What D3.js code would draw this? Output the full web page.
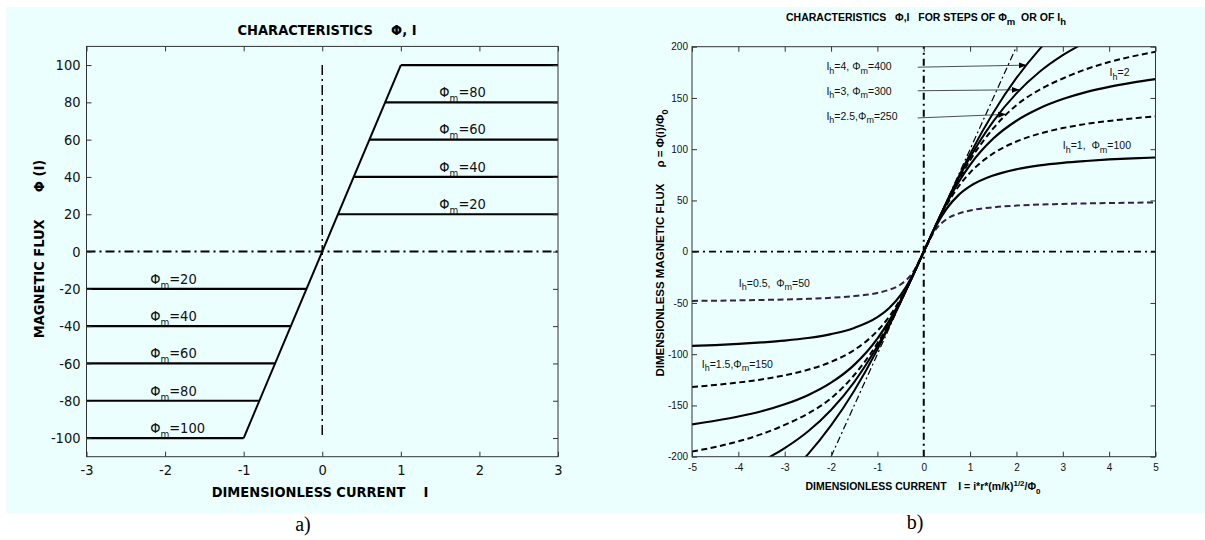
<!DOCTYPE html>
<html>
<head>
<meta charset="utf-8">
<script src="https://cdn.jsdelivr.net/npm/d3@7"></script>
<style>
  body { margin: 0; background: #fff; }
  text { white-space: pre; }
</style>
</head>
<body>
<svg id="chart" width="1205" height="540"></svg>
<script>
// ---------- panel a) : piecewise linear characteristics ----------
var phiSteps = [20, 40, 60, 80, 100];          // flux levels of the flat parts
var kneeCurrent = [0.2, 0.4, 0.6, 0.8, 1.0];    // where each flat part meets the ramp
var rampCurrent = [-1, 1];
var rampFlux = [-100, 100];
var posLabelSteps = [20, 40, 60, 80];           // labels on the right half
var negLabelSteps = [20, 40, 60, 80, 100];      // labels on the left half
var aTicksX = [-3, -2, -1, 0, 1, 2, 3];
var aTicksY = [-100, -80, -60, -40, -20, 0, 20, 40, 60, 80, 100];

// ---------- panel b) : smooth characteristics ----------
var currentI = [-5, -4.5, -4, -3.5, -3, -2.5, -2, -1.5, -1, -0.75, -0.5, -0.25, 0,
                0.25, 0.5, 0.75, 1, 1.5, 2, 2.5, 3, 3.5, 4, 4.5, 5];
var fluxIh05 = [-48.0, -47.8, -47.5, -47.1, -46.6, -46.0, -45.0, -43.3, -40.2, -37.2, -32.0, -21.2, 0,
                21.2, 32.0, 37.2, 40.2, 43.3, 45.0, 46.0, 46.6, 47.1, 47.5, 47.8, 48.0];
var fluxIh1 = [-91.9, -91.1, -90.0, -88.5, -86.7, -84.2, -80.4, -74.4, -63.9, -55.2, -42.4, -23.9, 0,
               23.9, 42.4, 55.2, 63.9, 74.4, 80.4, 84.2, 86.7, 88.5, 90.0, 91.1, 91.9];
var fluxIh15 = [-132.0, -130.0, -127.6, -124.6, -120.6, -115.2, -107.5, -95.9, -77.2, -63.6, -46.1, -24.4, 0,
                24.4, 46.1, 63.6, 77.2, 95.9, 107.5, 115.2, 120.6, 124.6, 127.6, 130.0, 132.0];
var fluxIh2 = [-168.4, -164.9, -160.8, -155.7, -148.9, -140.0, -127.8, -110.4, -84.8, -67.8, -47.7, -24.7, 0,
               24.7, 47.7, 67.8, 84.8, 110.4, 127.8, 140.0, 148.9, 155.7, 160.8, 164.9, 168.4];
var fluxIh25 = [-195.0, -190.5, -185.0, -178.0, -169.0, -158.0, -143.0, -120.3, -89.3, -70.1, -48.4, -24.8, 0,
                24.8, 48.4, 70.1, 89.3, 120.3, 143.0, 158.0, 169.0, 178.0, 185.0, 190.5, 195.0];
var fluxIh3 = [null, null, null, -204.6, -191.7, -175.5, -154.4, -127.2, -92.1, -71.6, -48.9, -24.9, 0,
               24.9, 48.9, 71.6, 92.1, 127.2, 154.4, 175.5, 191.7, 204.6, null, null, null];
var fluxIh4 = [null, null, null, null, -220.7, -197.7, -169.5, -135.6, -95.4, -72.9, -49.4, -24.9, 0,
               24.9, 49.4, 72.9, 95.4, 135.6, 169.5, 197.7, 220.7, null, null, null, null];
var linearCurrent = [-2, 2];
var linearFlux = [-200, 200];
var bTicksX = [-5, -4, -3, -2, -1, 0, 1, 2, 3, 4, 5];
var bTicksY = [-200, -150, -100, -50, 0, 50, 100, 150, 200];

var NARROW = "'Liberation Sans Narrow', 'Arial Narrow', 'DejaVu Sans Condensed', sans-serif";
var SANS = "'Liberation Sans', Arial, sans-serif";
var SERIF = "'Liberation Serif', 'Times New Roman', serif";

var svg = d3.select("#chart");

// light cyan figure background
svg.append("rect").attr("x", 6).attr("y", 7).attr("width", 1199).attr("height", 506)
    .attr("fill", "#ebffff");

// arrow head for the label leader lines
svg.append("defs").append("marker")
    .attr("id", "arrow").attr("markerUnits", "userSpaceOnUse")
    .attr("markerWidth", 9).attr("markerHeight", 8)
    .attr("refX", 8).attr("refY", 4).attr("orient", "auto")
    .append("path").attr("d", "M0,1L8,4L0,7Z").attr("fill", "#000");

// write a label made of parts, some parts as subscripts / superscripts
function richText(sel, parts, subSize, subShift) {
    var prev = 0;
    parts.forEach(function (p) {
        var shift = p.sub ? subShift : (p.sup ? -subShift : 0);
        var ts = sel.append("tspan").text(p.t).attr("dy", shift - prev);
        if (p.sub || p.sup) ts.attr("font-size", subSize);
        prev = shift;
    });
}

// MATLAB style box with inward ticks on all four sides
function drawFrame(g, x, y, tx, ty, font, size, padX, padY) {
    var fmt = function (d) { return String(d); };
    var bottom = g.append("g").attr("transform", "translate(0," + y.range()[0] + ")")
        .call(d3.axisBottom(x).tickValues(tx).tickFormat(fmt).tickSizeInner(-5).tickSizeOuter(0).tickPadding(padX));
    var top = g.append("g").attr("transform", "translate(0," + y.range()[1] + ")")
        .call(d3.axisTop(x).tickValues(tx).tickFormat("").tickSizeInner(-5).tickSizeOuter(0));
    var left = g.append("g").attr("transform", "translate(" + x.range()[0] + ",0)")
        .call(d3.axisLeft(y).tickValues(ty).tickFormat(fmt).tickSizeInner(-5).tickSizeOuter(0).tickPadding(padY));
    var right = g.append("g").attr("transform", "translate(" + x.range()[1] + ",0)")
        .call(d3.axisRight(y).tickValues(ty).tickFormat("").tickSizeInner(-5).tickSizeOuter(0));
    [bottom, top, left, right].forEach(function (a) {
        a.select(".domain").remove();
        a.selectAll("line").attr("stroke", "#333");
        a.selectAll("text").attr("font-family", font).attr("font-size", size).attr("fill", "#111");
    });
    g.append("rect")
        .attr("x", x.range()[0]).attr("y", y.range()[1])
        .attr("width", x.range()[1] - x.range()[0]).attr("height", y.range()[0] - y.range()[1])
        .attr("fill", "none").attr("stroke", "#333").attr("stroke-width", 1);
}

// =========================== panel a) ===========================
var xA = d3.scaleLinear().domain([-3, 3]).range([86.5, 558]);
var yA = d3.scaleLinear().domain([-110, 110]).range([456.7, 46.4]);
var gA = svg.append("g");

var lineA = d3.line().x(function (d) { return xA(d[0]); }).y(function (d) { return yA(d[1]); });

// zero axes, dash-dot
gA.append("path").attr("d", lineA([[-3, 0], [3, 0]]))
    .attr("stroke", "#000").attr("stroke-width", 2).attr("stroke-dasharray", "9,4,2,4").attr("fill", "none");
gA.append("path").attr("d", lineA([[0, 100], [0, -100]]))
    .attr("stroke", "#000").attr("stroke-width", 1.5).attr("stroke-dasharray", "10,4,2,4").attr("fill", "none");

// ramp
gA.append("path").attr("d", lineA(rampCurrent.map(function (c, i) { return [c, rampFlux[i]]; })))
    .attr("stroke", "#000").attr("stroke-width", 2).attr("fill", "none");

// flat parts
phiSteps.forEach(function (p, i) {
    gA.append("path").attr("d", lineA([[kneeCurrent[i], p], [3, p]]))
        .attr("stroke", "#000").attr("stroke-width", 2.2).attr("fill", "none");
    gA.append("path").attr("d", lineA([[-3, -p], [-kneeCurrent[i], -p]]))
        .attr("stroke", "#000").attr("stroke-width", 2.2).attr("fill", "none");
});

posLabelSteps.forEach(function (p) {
    var t = gA.append("text").attr("x", xA(1.49)).attr("y", yA(p + 2.8))
        .attr("font-family", NARROW).attr("font-size", 14.5).attr("fill", "#111");
    richText(t, [{t: "\u03A6"}, {t: "m", sub: true}, {t: "=" + p}], 10, 5);
});
negLabelSteps.forEach(function (p) {
    var t = gA.append("text").attr("x", xA(-2.19)).attr("y", yA(-p + 2.8))
        .attr("font-family", NARROW).attr("font-size", 14.5).attr("fill", "#111");
    richText(t, [{t: "\u03A6"}, {t: "m", sub: true}, {t: "=" + p}], 10, 5);
});

drawFrame(gA, xA, yA, aTicksX, aTicksY, NARROW, 14.5, 8, 6);

gA.append("text").attr("x", 327).attr("y", 35).attr("text-anchor", "middle")
    .attr("font-family", NARROW).attr("font-weight", "bold").attr("font-size", 14.5)
    .text("CHARACTERISTICS    \u03A6, I");
gA.append("text").attr("x", 320).attr("y", 497).attr("text-anchor", "middle")
    .attr("font-family", NARROW).attr("font-weight", "bold").attr("font-size", 14.5)
    .text("DIMENSIONLESS CURRENT    I");
gA.append("text").attr("transform", "translate(44,249)rotate(-90)").attr("text-anchor", "middle")
    .attr("font-family", NARROW).attr("font-weight", "bold").attr("font-size", 14.5)
    .text("MAGNETIC FLUX      \u03A6 (I)");
gA.append("text").attr("x", 303).attr("y", 531).attr("text-anchor", "middle")
    .attr("font-family", SERIF).attr("font-size", 20).text("a)");

// =========================== panel b) ===========================
var xB = d3.scaleLinear().domain([-5, 5]).range([692, 1155.5]);
var yB = d3.scaleLinear().domain([-200, 200]).range([456.7, 46.7]);
var gB = svg.append("g");

gB.append("clipPath").attr("id", "clipB").append("rect")
    .attr("x", 692).attr("y", 46.7).attr("width", 463.5).attr("height", 410);

var lineB = d3.line()
    .defined(function (d) { return d[1] !== null; })
    .x(function (d) { return xB(d[0]); }).y(function (d) { return yB(d[1]); })
    .curve(d3.curveMonotoneX);

// zero axes
gB.append("path").attr("d", lineB([[-5, 0], [5, 0]]))
    .attr("stroke", "#000").attr("stroke-width", 1.8).attr("stroke-dasharray", "7,4,2,4").attr("fill", "none");
gB.append("path").attr("d", lineB([[0, -200], [0, 200]]))
    .attr("stroke", "#000").attr("stroke-width", 2).attr("stroke-dasharray", "7,4,2,4").attr("fill", "none");

var curves = [
    {flux: fluxIh05, color: "#35204f", dash: "6,3.5", w: 2},
    {flux: fluxIh1, color: "#000", dash: null, w: 2.2},
    {flux: fluxIh15, color: "#000", dash: "6,3.5", w: 2},
    {flux: fluxIh2, color: "#000", dash: null, w: 2.2},
    {flux: fluxIh25, color: "#000", dash: "6,3.5", w: 2},
    {flux: fluxIh3, color: "#000", dash: null, w: 2},
    {flux: fluxIh4, color: "#000", dash: null, w: 2}
];
var curveG = gB.append("g").attr("clip-path", "url(#clipB)");
curves.forEach(function (c) {
    curveG.append("path")
        .attr("d", lineB(currentI.map(function (v, i) { return [v, c.flux[i]]; })))
        .attr("fill", "none").attr("stroke", c.color).attr("stroke-width", c.w)
        .attr("stroke-dasharray", c.dash);
});
curveG.append("path")
    .attr("d", lineB(linearCurrent.map(function (v, i) { return [v, linearFlux[i]]; })))
    .attr("fill", "none").attr("stroke", "#000").attr("stroke-width", 1.2)
    .attr("stroke-dasharray", "7,3,2,3");

// labels with leader arrows
var arrowLabels = [
    {parts: [{t: "I"}, {t: "h", sub: true}, {t: "=4, \u03A6"}, {t: "m", sub: true}, {t: "=400"}],
        at: [-2.10, 177], from: [-0.13, 180], to: [2.22, 182]},
    {parts: [{t: "I"}, {t: "h", sub: true}, {t: "=3, \u03A6"}, {t: "m", sub: true}, {t: "=300"}],
        at: [-2.10, 153], from: [-0.13, 157], to: [2.07, 158]},
    {parts: [{t: "I"}, {t: "h", sub: true}, {t: "=2.5,\u03A6"}, {t: "m", sub: true}, {t: "=250"}],
        at: [-2.10, 128.5], from: [-0.13, 130.5], to: [1.78, 134]}
];
arrowLabels.forEach(function (l) {
    gB.append("line")
        .attr("x1", xB(l.from[0])).attr("y1", yB(l.from[1]))
        .attr("x2", xB(l.to[0])).attr("y2", yB(l.to[1]))
        .attr("stroke", "#222").attr("stroke-width", 0.8).attr("marker-end", "url(#arrow)");
    var t = gB.append("text").attr("x", xB(l.at[0])).attr("y", yB(l.at[1]))
        .attr("font-family", SANS).attr("font-size", 10.5).attr("fill", "#111");
    richText(t, l.parts, 9, 3.5);
});

var plainLabels = [
    {parts: [{t: "I"}, {t: "h", sub: true}, {t: "=2"}], at: [4.01, 171]},
    {parts: [{t: "I"}, {t: "h", sub: true}, {t: "=1,  \u03A6"}, {t: "m", sub: true}, {t: "=100"}], at: [3.0, 100]},
    {parts: [{t: "I"}, {t: "h", sub: true}, {t: "=0.5,  \u03A6"}, {t: "m", sub: true}, {t: "=50"}], at: [-3.99, -34]},
    {parts: [{t: "I"}, {t: "h", sub: true}, {t: "=1.5,\u03A6"}, {t: "m", sub: true}, {t: "=150"}], at: [-4.79, -113]}
];
plainLabels.forEach(function (l) {
    var t = gB.append("text").attr("x", xB(l.at[0])).attr("y", yB(l.at[1]))
        .attr("font-family", SANS).attr("font-size", 10.5).attr("fill", "#111");
    richText(t, l.parts, 9, 3.5);
});

drawFrame(gB, xB, yB, bTicksX, bTicksY, SANS, 10, 7, 4);

var tB = gB.append("text").attr("x", 926).attr("y", 21).attr("text-anchor", "middle")
    .attr("font-family", SANS).attr("font-weight", "bold").attr("font-size", 10.5);
richText(tB, [{t: "CHARACTERISTICS   \u03A6,I   FOR STEPS OF \u03A6"}, {t: "m", sub: true},
    {t: "  OR OF I"}, {t: "h", sub: true}], 9.5, 4);

var xl = gB.append("text").attr("x", 923).attr("y", 490).attr("text-anchor", "middle")
    .attr("font-family", SANS).attr("font-weight", "bold").attr("font-size", 10.5);
richText(xl, [{t: "DIMENSIONLESS CURRENT    I = i*r*(m/k)"}, {t: "1/2", sup: true},
    {t: "/\u03A6"}, {t: "0", sub: true}], 8, 4);

var yl = gB.append("text").attr("transform", "translate(664,243)rotate(-90)").attr("text-anchor", "middle")
    .attr("font-family", SANS).attr("font-weight", "bold").attr("font-size", 11.5);
richText(yl, [{t: "DIMENSIONLESS MAGNETIC FLUX     \u03C1 = \u03A6(i)/\u03A6"}, {t: "0", sub: true}], 9, 4);

gB.append("text").attr("x", 915).attr("y", 529).attr("text-anchor", "middle")
    .attr("font-family", SERIF).attr("font-size", 20).text("b)");
</script>
</body>
</html>
